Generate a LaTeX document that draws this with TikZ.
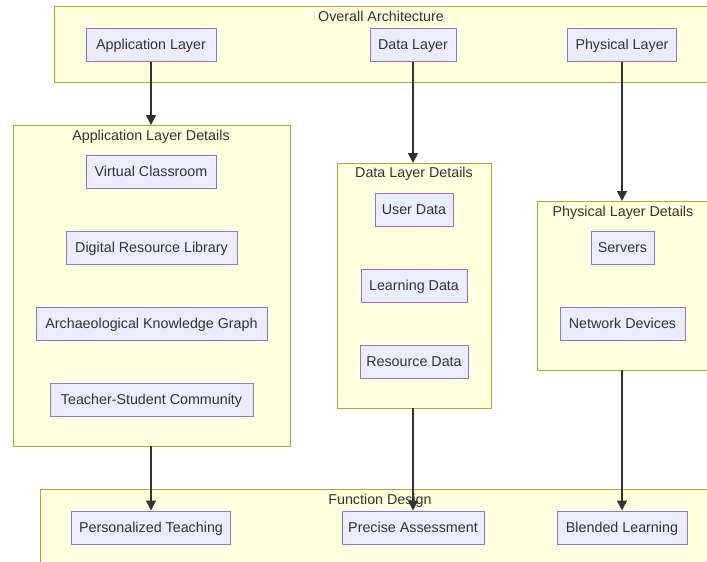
\documentclass[tikz,border=0pt]{standalone}
\usepackage{fontspec}
\setmainfont{Liberation Sans}
\usetikzlibrary{arrows.meta}
\definecolor{clfill}{HTML}{FFFFDE}
\definecolor{cldraw}{HTML}{AAAA33}
\definecolor{ndfill}{HTML}{ECECFF}
\definecolor{nddraw}{HTML}{9370DB}
\definecolor{txt}{HTML}{333333}
\tikzset{
  cluster/.style={draw=cldraw, fill=clfill, line width=1pt},
  cltitle/.style={text=txt, font=\fontsize{14.3}{16}\selectfont, inner sep=0pt, anchor=center, text height=12pt, text depth=2pt},
  box/.style={draw=nddraw, fill=ndfill, line width=1pt, text=txt, font=\fontsize{14.3}{16}\selectfont, minimum height=33pt, inner sep=0pt, anchor=center, text height=12pt, text depth=2pt},
  link/.style={draw=txt, line width=1.6pt, -{Triangle[length=10pt,width=10pt]}}
}
\begin{document}
\begin{tikzpicture}[x=1pt,y=-1pt]
\useasboundingbox (0,0) rectangle (707,562);
\clip (0,0) rectangle (707,562);
\fill[white] (0,0) rectangle (707,562);
% clusters
\draw[cluster] (54,6) rectangle (709,82);
\node[cltitle] (tOA) at (381,16) {Overall Architecture};
\draw[cluster] (13,125) rectangle (290,446);
\node[cltitle] (tAD) at (151,135) {Application Layer Details};
\draw[cluster] (337,163) rectangle (491,408);
\node[cltitle] (tDD) at (414,172) {Data Layer Details};
\draw[cluster] (537,201) rectangle (709,370);
\node[cltitle] (tPD) at (623,211) {Physical Layer Details};
\draw[cluster] (40,489) rectangle (720,566);
\node[cltitle] (tFD) at (380,499) {Function Design};
% coordinates of cluster edges
\coordinate (adTop) at (151,125);
\coordinate (adBot) at (151,446);
\coordinate (ddTop) at (413,163);
\coordinate (ddBot) at (413,408);
\coordinate (pdTop) at (622,201);
\coordinate (pdBot) at (622,370);
% nodes
\node[box, minimum width=130pt] (app) at (151,44.5) {Application Layer};
\node[box, minimum width=86pt] (data) at (413,44.5) {Data Layer};
\node[box, minimum width=109pt] (phys) at (622,44.5) {Physical Layer};
\node[box, minimum width=130pt] (vc) at (151,171.5) {Virtual Classroom};
\node[box, minimum width=171pt] (drl) at (151.5,247.5) {Digital Resource Library};
\node[box, minimum width=231pt] (akg) at (151.5,323.5) {Archaeological Knowledge Graph};
\node[box, minimum width=203pt] (tsc) at (151.5,399.5) {Teacher-Student Community};
\node[box, minimum width=78pt] (ud) at (414,209.5) {User Data};
\node[box, minimum width=106pt] (ld) at (414,285.5) {Learning Data};
\node[box, minimum width=108pt] (rd) at (414,361.5) {Resource Data};
\node[box, minimum width=63pt] (srv) at (622.5,247.5) {Servers};
\node[box, minimum width=125pt] (nd) at (622.5,323.5) {Network Devices};
\node[box, minimum width=159pt] (pt) at (151,527.5) {Personalized Teaching};
\node[box, minimum width=142pt] (pa) at (413,527.5) {Precise Assessment};
\node[box, minimum width=130pt] (bl) at (622,527.5) {Blended Learning};
% links
\draw[link] (app.south) -- (adTop);
\draw[link] (data.south) -- (ddTop);
\draw[link] (phys.south) -- (pdTop);
\draw[link] (adBot) -- (pt.north);
\draw[link] (ddBot) -- (pa.north);
\draw[link] (pdBot) -- (bl.north);
\end{tikzpicture}
\end{document}
